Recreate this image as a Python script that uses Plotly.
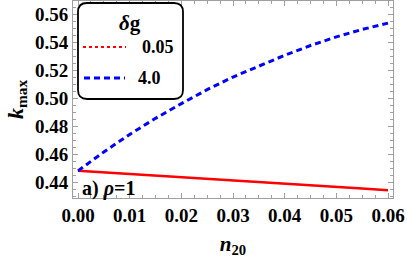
import plotly.graph_objects as go

# data
n20 = [0.0, 0.005, 0.01, 0.015, 0.02, 0.025, 0.03, 0.035, 0.04, 0.045, 0.05, 0.055, 0.06]
k_dg_005 = [0.4480, 0.4468, 0.4457, 0.4445, 0.4434, 0.4422, 0.4411, 0.4399, 0.4388, 0.4376, 0.4365, 0.4353, 0.4342]
k_dg_4 = [0.4480, 0.4615, 0.4740, 0.4855, 0.4960, 0.5060, 0.5150, 0.5230, 0.5305, 0.5375, 0.5437, 0.5490, 0.5535]
x_ticks = [0.0, 0.01, 0.02, 0.03, 0.04, 0.05, 0.06]
x_tick_labels = ["0.00", "0.01", "0.02", "0.03", "0.04", "0.05", "0.06"]
y_ticks = [0.44, 0.46, 0.48, 0.50, 0.52, 0.54, 0.56]
y_tick_labels = ["0.44", "0.46", "0.48", "0.50", "0.52", "0.54", "0.56"]
legend_title = "<b><i>δ</i>g</b>"
legend_labels = ["<b>0.05</b>", "<b>4.0</b>"]

W, H = 407, 258
L, R, T, B = 73, 14, 1, 60
PW, PH = W - L - R, H - T - B
FONT = "Liberation Serif"

def px(x):
    return (x - L) / PW

def py(y):
    return (H - B - y) / PH

fig = go.Figure()
fig.add_trace(go.Scatter(x=n20, y=k_dg_005, mode="lines",
                         line=dict(color="#ff0000", width=2.5), showlegend=False))
fig.add_trace(go.Scatter(x=n20, y=k_dg_4, mode="lines",
                         line=dict(color="#0000ff", width=3, dash="6px,4px"), showlegend=False))

axis_common = dict(showgrid=False, zeroline=False, showline=True, linecolor="#a0a0a0",
                   linewidth=1, mirror="ticks", ticks="inside", tickcolor="#a0a0a0",
                   ticklen=5, tickwidth=1,
                   tickfont=dict(family=FONT, size=19, color="black"))

fig.update_xaxes(range=[-0.000968, 0.060968], tickvals=x_ticks,
                 ticktext=["<b>%s</b>" % t for t in x_tick_labels],
                 minor=dict(dtick=0.0025, tick0=0, ticks="inside", ticklen=3,
                            tickcolor="#a0a0a0", tickwidth=1),
                 title=dict(text="<b><i>n</i><sub>20</sub></b>",
                            font=dict(family=FONT, size=21, color="black"), standoff=13),
                 **axis_common)
fig.update_yaxes(range=[0.4286, 0.5693], tickvals=y_ticks,
                 ticktext=["<b>%s</b>" % t for t in y_tick_labels],
                 minor=dict(dtick=0.005, tick0=0.44, ticks="inside", ticklen=3,
                            tickcolor="#a0a0a0", tickwidth=1),
                 title=dict(text="<b><i>k</i><sub>max</sub></b>",
                            font=dict(family=FONT, size=22, color="black"), standoff=5),
                 **axis_common)

# legend box (rounded)
x0, x1, y0, y1, r = 78, 183, 3, 99, 9
rx, ry = r / PW, r / PH
X0, X1, Y0, Y1 = px(x0), px(x1), py(y1), py(y0)
path = (f"M {X0+rx} {Y0} L {X1-rx} {Y0} Q {X1} {Y0} {X1} {Y0+ry} "
        f"L {X1} {Y1-ry} Q {X1} {Y1} {X1-rx} {Y1} L {X0+rx} {Y1} "
        f"Q {X0} {Y1} {X0} {Y1-ry} L {X0} {Y0+ry} Q {X0} {Y0} {X0+rx} {Y0} Z")
fig.add_shape(type="path", path=path, xref="paper", yref="paper",
              line=dict(color="black", width=1.8), fillcolor="white", layer="above")
fig.add_shape(type="line", xref="paper", yref="paper", x0=px(83), x1=px(126), y0=py(47), y1=py(47),
              line=dict(color="#ff0000", width=2, dash="dot"), layer="above")
fig.add_shape(type="line", xref="paper", yref="paper", x0=px(84), x1=px(125), y0=py(78), y1=py(78),
              line=dict(color="#0000ff", width=3, dash="6px,4px"), layer="above")

ann = dict(xref="paper", yref="paper", showarrow=False, xanchor="center", yanchor="middle")
fig.add_annotation(x=px(130), y=py(23), text=legend_title,
                   font=dict(family=FONT, size=21, color="black"), **ann)
fig.add_annotation(x=px(158), y=py(47), text=legend_labels[0],
                   font=dict(family=FONT, size=18, color="black"), **ann)
fig.add_annotation(x=px(149), y=py(78), text=legend_labels[1],
                   font=dict(family=FONT, size=18, color="black"), **ann)
fig.add_annotation(x=px(108), y=py(188), text="<b>a) <i>ρ</i>=1</b>",
                   font=dict(family=FONT, size=20, color="black"), **ann)

fig.update_layout(width=W, height=H, margin=dict(l=L, r=R, t=T, b=B),
                  paper_bgcolor="white", plot_bgcolor="white")
fig.write_html("out.html", config={"displayModeBar": False},
               post_script="document.body.style.margin='0';document.body.style.padding='0';")
